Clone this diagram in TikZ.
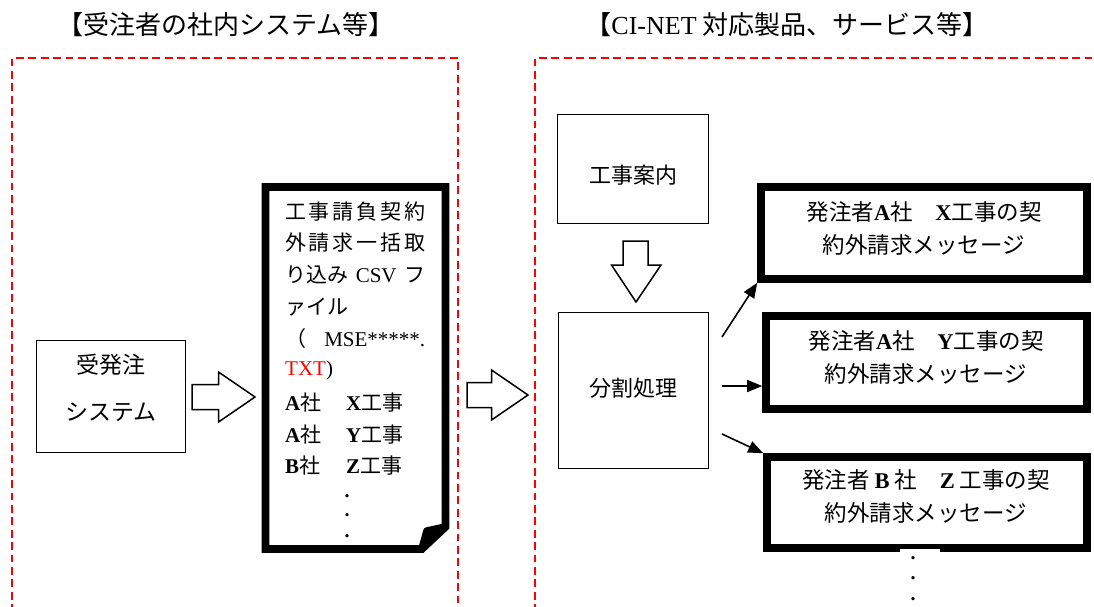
\documentclass[tikz,border=0pt]{standalone}
\usepackage{fontspec}
\setmainfont{Liberation Serif}
\newfontfamily\jp{Noto Sans CJK JP}
\usetikzlibrary{arrows.meta,calc}
\newcommand\lt[1]{{\rmfamily #1}}
\newcommand\lb[1]{{\rmfamily\bfseries #1}}
\newcommand\fsz[2]{\fontsize{#1}{#2}\selectfont}
\newcommand\blkH[2]{%
  \draw[blk] ($(#1)+(0,-12.5)$) -- ($(#2)+(-36.5,-12.5)$) -- ($(#2)+(-36.5,-25)$) -- (#2)
    -- ($(#2)+(-36.5,25)$) -- ($(#2)+(-36.5,12.5)$) -- ($(#1)+(0,12.5)$) -- cycle;}
\tikzset{
  reddash/.style={draw=red, line width=2.8pt, dash pattern=on 7.8pt off 4.6pt},
  thinbox/.style={draw, line width=1.5pt, inner sep=0pt},
  thickbox/.style={draw, line width=7.6pt, inner sep=0pt},
  blk/.style={draw, line width=1.5pt, fill=white, line join=miter},
  thinarr/.style={line width=1.6pt, -{Triangle[length=15pt,width=12pt]}},
  jt/.style={font=\jp\fsz{#1}{#1}, inner sep=0pt},
  jt/.default=22,
  ml/.style={font=\jp\fsz{22.5}{33}, inner sep=0pt, align=center},
  doct/.style={font=\jp\fsz{21}{21}, inner sep=0pt, anchor=west},
  dotmark/.style={font=\rmfamily\bfseries\fsz{20}{20}, inner sep=0pt, anchor=base},
}
\begin{document}
\begin{tikzpicture}[x=1pt,y=-1pt]
\useasboundingbox (0,0) rectangle (1094,607);
\clip (0,0) rectangle (1094,607);
% titles
\node[jt=26] (title1) at (226,25) {【受注者の社内システム等】};
\node[jt=26] (title2) at (787,25) {【\lt{CI-NET} 対応製品、サービス等】};
% regions
\draw[reddash] (12,612) -- (12,58) -- (458,58) -- (458,612);
\draw[reddash] (535,612) -- (535,58) -- (1100,58);
% ordering system
\node[thinbox, minimum width=149pt, minimum height=112pt] (sys) at (111,396.5) {};
\node[jt=23] (sys1) at (111,365) {受発注};
\node[jt=23] (sys2) at (111,412) {システム};
% document
\draw[line width=7.6pt, line join=miter] (265.5,187) -- (445.5,187) -- (445.5,527) -- (422,549) -- (265.5,549) -- cycle;
\draw[line width=7.6pt, line join=round, fill] (422,549) -- (427,531) -- (445.5,527);
\coordinate (doc) at (355.5,368);
\node[doct] (d1) at (285,212) {\makebox[140pt][s]{工\hfill 事\hfill 請\hfill 負\hfill 契\hfill 約}};
\node[doct] (d2) at (285,243) {\makebox[140pt][s]{外\hfill 請\hfill 求\hfill 一\hfill 括\hfill 取}};
\node[doct] (d3) at (285,275) {\makebox[140pt][s]{り込み\hfill\lt{CSV}\hfill フ}};
\node[doct] (d4) at (285,307) {ァイル};
\node[doct] (d5) at (285,339) {\makebox[140pt][s]{（\hfill\lt{MSE*****.}}};
\node[doct] (d6) at (285,370) {\lt{\textcolor{red}{TXT})}};
\node[doct] (d7) at (285,403) {\lb{A}社};
\node[doct] (d7b) at (346,403) {\lb{X}工事};
\node[doct] (d8) at (285,435) {\lb{A}社};
\node[doct] (d8b) at (346,435) {\lb{Y}工事};
\node[doct] (d9) at (285,466) {\lb{B}社};
\node[doct] (d9b) at (346,466) {\lb{Z}工事};
\node[dotmark] (dd1) at (347,497) {.};
\node[dotmark] (dd2) at (347,516) {.};
\node[dotmark] (dd3) at (347,537) {.};
% block arrows
\coordinate (a1s) at (192,397); \coordinate (a1t) at (255,397);
\blkH{a1s}{a1t}
\coordinate (a2s) at (467,395); \coordinate (a2t) at (528,395);
\blkH{a2s}{a2t}
% right side
\node[thinbox, minimum width=151pt, minimum height=109pt] (kouji) at (633,169) {};
\node[jt] (kouji1) at (633,175) {工事案内};
\node[thinbox, minimum width=150pt, minimum height=156pt] (split) at (633.5,390.5) {};
\node[jt] (split1) at (633.5,388) {分割処理};
\coordinate (a3s) at (635.5,241); \coordinate (a3t) at (636,302);
\draw[blk] ($(a3s)+(-12.5,0)$) -- ($(a3s)+(12.5,0)$) -- ($(a3t)+(12,-37)$) -- ($(a3t)+(25,-37)$) -- (a3t)
  -- ($(a3t)+(-24.5,-37)$) -- ($(a3t)+(-13,-37)$) -- cycle;
% messages
\node[thickbox, minimum width=326pt, minimum height=92pt] (m1) at (924,233) {};
\node[ml] (m1t) at (924,228.5) {発注者\lb{A}社　\lb{X}工事の契\\約外請求メッセージ};
\node[thickbox, minimum width=321pt, minimum height=93pt] (m2) at (926.5,362.5) {};
\node[ml] (m2t) at (926,357.5) {発注者\lb{A}社　\lb{Y}工事の契\\約外請求メッセージ};
\node[thickbox, minimum width=320pt, minimum height=91pt] (m3) at (927,502.5) {};
\node[ml] (m3t) at (926,496.5) {発注者 \lb{B} 社　\lb{Z} 工事の契\\約外請求メッセージ};
\fill[white] (900,549) rectangle (940,607);
\node[dotmark] (md1) at (913,559) {.};
\node[dotmark] (md2) at (913,579) {.};
\node[dotmark] (md3) at (913,600) {.};
% split arrows
\coordinate (s1) at (722,337);
\coordinate (s2) at (722,386);
\coordinate (s3) at (722,434);
\draw[thinarr] (s1) -- (m1.south west);
\draw[thinarr] (s2) -- (s2 -| m2.west);
\draw[thinarr] (s3) -- (m3.north west);
\end{tikzpicture}
\end{document}
